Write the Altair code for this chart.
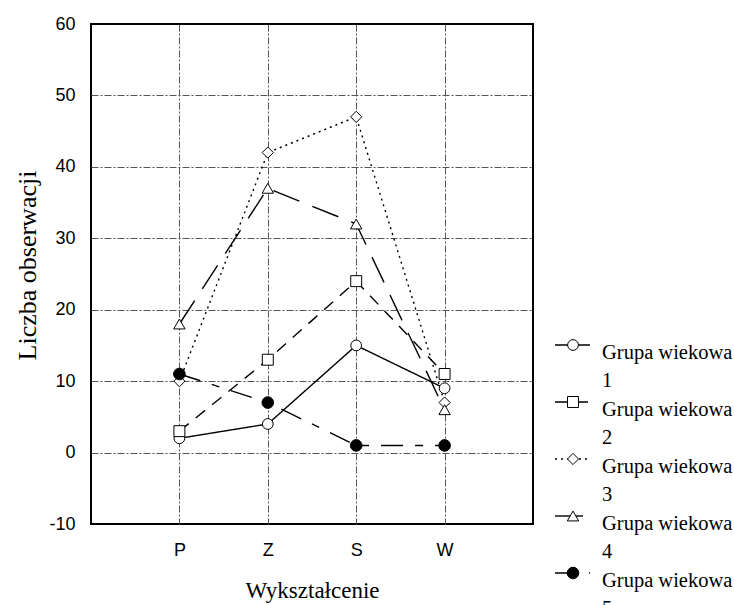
import altair as alt
import pandas as pd

# ---- data ----
categories = ["P", "Z", "S", "W"]
group_numbers = ["1", "2", "3", "4", "5"]
group_names = ["Grupa wiekowa " + n for n in group_numbers]
grupa_1 = [2, 4, 15, 9]
grupa_2 = [3, 13, 24, 11]
grupa_3 = [10, 42, 47, 7]
grupa_4 = [18, 37, 32, 6]
grupa_5 = [11, 7, 1, 1]
series_values = [grupa_1, grupa_2, grupa_3, grupa_4, grupa_5]
y_ticks = [-10, 0, 10, 20, 30, 40, 50, 60]

rows = []
for name, vals in zip(group_names, series_values):
    for c, v in zip(categories, vals):
        rows.append({"series": name, "cat": c, "value": v})
df = pd.DataFrame(rows)
legend_df = pd.DataFrame({"series": group_names,
                          "label": ["Grupa wiekowa"] * len(group_names),
                          "num": group_numbers})

# ---- shared style scales ----
dash_scale = alt.Scale(domain=group_names,
                       range=[[1, 0], [12, 9], [2, 4], [28, 14], [22, 12, 8, 12]])
shape_scale = alt.Scale(domain=group_names,
                        range=["circle", "square", "diamond", "triangle-up", "circle"])
fill_scale = alt.Scale(domain=group_names,
                       range=["white", "white", "white", "white", "black"])
size_scale = alt.Scale(domain=group_names, range=[115, 135, 70, 120, 115])

dash_enc = alt.StrokeDash("series:N", scale=dash_scale, legend=None)
shape_enc = alt.Shape("series:N", scale=shape_scale, legend=None)
fill_enc = alt.Fill("series:N", scale=fill_scale, legend=None)
size_enc = alt.Size("series:N", scale=size_scale, legend=None)

x_enc = alt.X("cat:N", sort=categories,
              scale=alt.Scale(type="point", domain=categories, padding=1),
              axis=alt.Axis(title="Wykształcenie", labelAngle=0, ticks=False, tickSize=0,
                            domain=False, labelPadding=17, titlePadding=20, grid=True,
                            titleFontSize=23))
y_enc = alt.Y("value:Q", scale=alt.Scale(domain=[-10, 60], nice=False, zero=False),
              axis=alt.Axis(title="Liczba obserwacji", values=y_ticks, ticks=False, tickSize=0,
                            domain=False, labelPadding=16, titlePadding=8, titleY=241,
                            labelExpr="'' + datum.value",
                            grid=True, titleFontSize=26,
                            gridOpacity=alt.condition("datum.value < 0 || datum.value > 55",
                                                      alt.value(0), alt.value(1))))

base = alt.Chart(df)
lines = base.mark_line(color="black", strokeWidth=1.4).encode(
    x=x_enc, y=y_enc, strokeDash=dash_enc)
points = base.mark_point(filled=True, stroke="black", strokeWidth=1, opacity=1).encode(
    x=x_enc, y=y_enc, shape=shape_enc, fill=fill_enc, size=size_enc)
main = alt.layer(lines, points)

# ---- legend drawn beside the plot ----
leg_y = alt.Y("series:N", sort=group_names,
              scale=alt.Scale(type="point", domain=group_names, range=[321, 549], padding=0),
              axis=None)
lbase = alt.Chart(legend_df)
leg_rule = lbase.mark_rule(color="black", strokeWidth=1.4).encode(
    x=alt.value(464), x2=alt.value(499), y=leg_y, strokeDash=dash_enc)
leg_pts = lbase.mark_point(filled=True, stroke="black", strokeWidth=1, opacity=1).encode(
    x=alt.value(482), y=leg_y, shape=shape_enc, fill=fill_enc, size=size_enc)
leg_txt1 = lbase.mark_text(align="left", baseline="alphabetic", dy=14,
                           font="Liberation Serif", fontSize=20.5, color="black").encode(
    x=alt.value(511), y=leg_y, text="label:N")
leg_txt2 = lbase.mark_text(align="left", baseline="alphabetic", dy=42,
                           font="Liberation Serif", fontSize=20.5, color="black").encode(
    x=alt.value(511), y=leg_y, text="num:N")
legend = alt.layer(leg_rule, leg_pts, leg_txt1, leg_txt2)

chart = (
    alt.layer(main, legend)
    .resolve_scale(y="independent")
    .properties(width=442, height=500,
                padding={"left": 14, "top": 15, "right": 0, "bottom": 0},
                background="white")
    .configure_view(stroke="black", strokeWidth=2)
    .configure_axis(labelFont="Liberation Sans", labelFontSize=18, labelColor="black",
                    titleFont="Liberation Serif", titleFontWeight="normal", titleColor="black",
                    gridColor="#555555", gridDash=[7, 2, 2, 2], gridWidth=1)
)

chart.save("out.html", embed_options={"renderer": "svg", "actions": False})
